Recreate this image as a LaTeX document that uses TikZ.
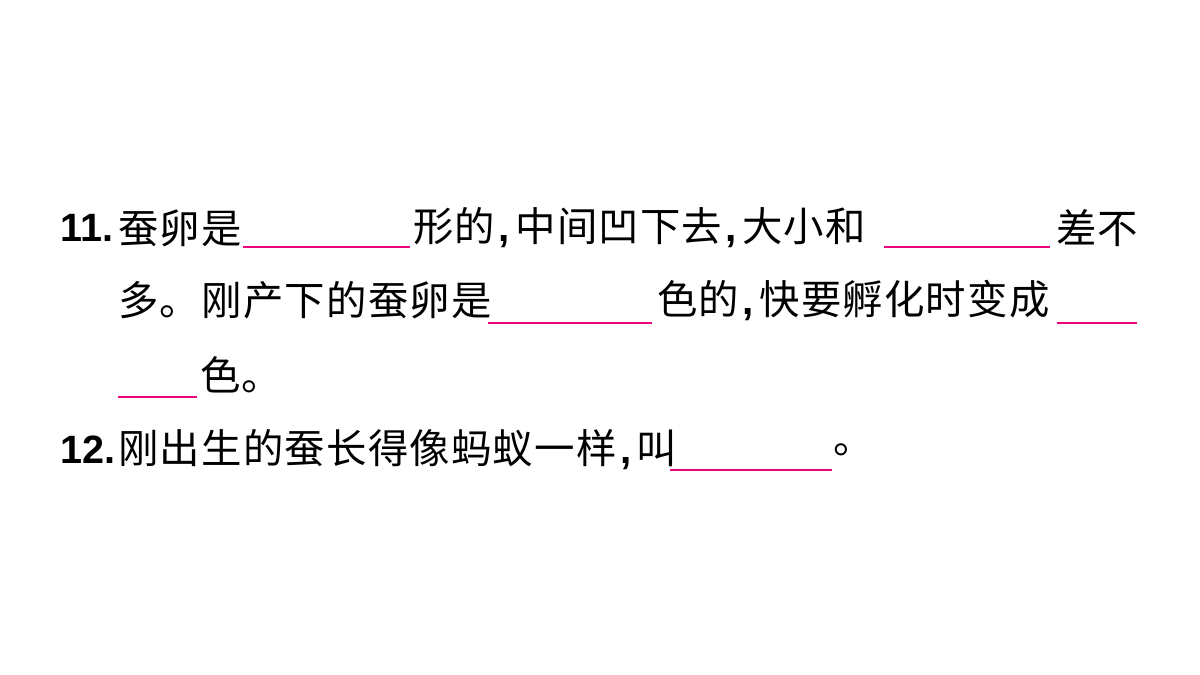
\documentclass[tikz,border=0pt]{standalone}
\usepackage{fontspec}
\setmainfont{Noto Sans CJK SC}[LetterSpace=3]
\newfontfamily\numfont{Liberation Sans}[BoldFont={Liberation Sans Bold}]
\newcommand\cm{{\numfont\bfseries\kern2pt,\kern3pt}}
\begin{document}
\begin{tikzpicture}[x=0.02cm,y=-0.02cm,
  txt/.style={anchor=west,inner sep=0pt,font=\fontsize{23}{28}\selectfont},
  num/.style={anchor=west,inner sep=0pt,font=\fontsize{22.5}{27}\selectfont\numfont\bfseries},
  blank/.style={draw=magenta!85!red,line width=0.9pt}]
\useasboundingbox[fill=white] (0,0) rectangle (1200,675);

% question 11
\node[num] (q11) at (60,228) {11.};
\node[txt] (a1) at (118,228) {蚕卵是};
\draw[blank] (243,247) -- (410,247);
\node[txt] (a2) at (413,228) {形的\cm 中间凹下去\cm 大小和};
\draw[blank] (884,247) -- (1050,247);
\node[txt] (a3) at (1056,228) {差不};
\node[txt] (b1) at (118,300) {多。刚产下的蚕卵是};
\draw[blank] (488,323) -- (652,323);
\node[txt] (b2) at (657,300) {色的\cm 快要孵化时变成};
\draw[blank] (1057,323) -- (1137,323);
\draw[blank] (118,397) -- (197,397);
\node[txt] (c1) at (200,375) {色。};

% question 12
\node[num] (q12) at (60,450) {12.};
\node[txt] (d1) at (118,450) {刚出生的蚕长得像蚂蚁一样\cm 叫};
\draw[blank] (670,470) -- (832,470);
\node[txt] (d2) at (833,450) {。};
\end{tikzpicture}
\end{document}
